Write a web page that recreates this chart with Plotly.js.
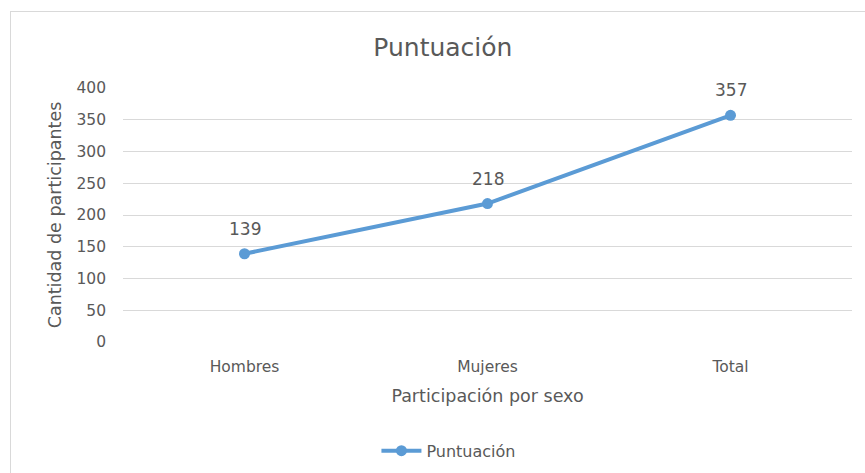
<!DOCTYPE html>
<html>
<head>
<meta charset="utf-8">
<script src="https://cdn.plot.ly/plotly-3.0.1.min.js"></script>
<style>
  html, body { margin: 0; padding: 0; background: #fff; }
  #wrap { position: relative; width: 865px; height: 473px; overflow: hidden; }
  #frame { position: absolute; left: 10px; top: 11px; width: 900px; height: 500px; border: 1.5px solid #D9D9D9; box-sizing: border-box; pointer-events: none; z-index: 2; }
  #chart { position: absolute; left: 0; top: 0; width: 865px; height: 473px; }
</style>
</head>
<body>
<div id="wrap">
  <div id="chart"></div>
  <div id="frame"></div>
</div>
<script>
const categories = ["Hombres", "Mujeres", "Total"];
const puntuacion = [139, 218, 357];
const yTicks = [0, 50, 100, 150, 200, 250, 300, 350, 400];
const seriesName = "Puntuación";
const chartTitle = "Puntuación";
const xTitle = "Participación por sexo";
const yTitle = "Cantidad de participantes";

const FONT = "'DejaVu Sans', sans-serif";
const GRAY = "#595959";

const trace = {
  type: "scatter",
  mode: "lines+markers",
  x: categories,
  y: puntuacion,
  name: seriesName,
  line: { color: "#5B9BD5", width: 4 },
  marker: { color: "#5B9BD5", size: 11 },
  cliponaxis: false,
  hoverinfo: "x+y"
};

const labelAnnotations = categories.map((c, i) => ({
  x: c, y: puntuacion[i], xref: "x", yref: "y",
  text: String(puntuacion[i]),
  showarrow: false,
  yshift: 25,
  font: { family: FONT, size: 17, color: GRAY }
}));

const layout = {
  width: 865, height: 473,
  margin: { l: 123, r: 13, t: 88, b: 131 },
  paper_bgcolor: "#fff",
  plot_bgcolor: "#fff",
  font: { family: FONT, color: GRAY, size: 15 },
  title: {
    text: chartTitle,
    font: { family: FONT, size: 25, color: GRAY },
    x: 0.512, xref: "container", xanchor: "center",
    y: 0.9, yref: "container", yanchor: "middle"
  },
  xaxis: {
    type: "category",
    range: [-0.5, 2.5],
    showgrid: false, zeroline: false, showline: false,
    ticks: "", ticklabelstandoff: 13,
    tickfont: { family: FONT, size: 15.5, color: GRAY },
    title: { text: xTitle, font: { family: FONT, size: 17.5, color: GRAY }, standoff: 15 },
    fixedrange: true
  },
  yaxis: {
    range: [0, 400],
    tickvals: yTicks,
    ticktext: yTicks.map(String),
    showgrid: true, gridcolor: "#D9D9D9", gridwidth: 1,
    zeroline: false, showline: false,
    ticks: "", ticklabelstandoff: 16,
    tickfont: { family: FONT, size: 15.5, color: GRAY },
    title: { text: yTitle, font: { family: FONT, size: 17.5, color: GRAY }, standoff: 10 },
    fixedrange: true
  },
  annotations: labelAnnotations,
  showlegend: true,
  legend: {
    orientation: "h",
    xref: "container", yref: "container",
    x: 0.519, xanchor: "center",
    y: 0.047, yanchor: "middle",
    font: { family: FONT, size: 16, color: GRAY },
    itemwidth: 40
  }
};

Plotly.newPlot("chart", [trace], layout, { displayModeBar: false, staticPlot: true });
</script>
</body>
</html>
